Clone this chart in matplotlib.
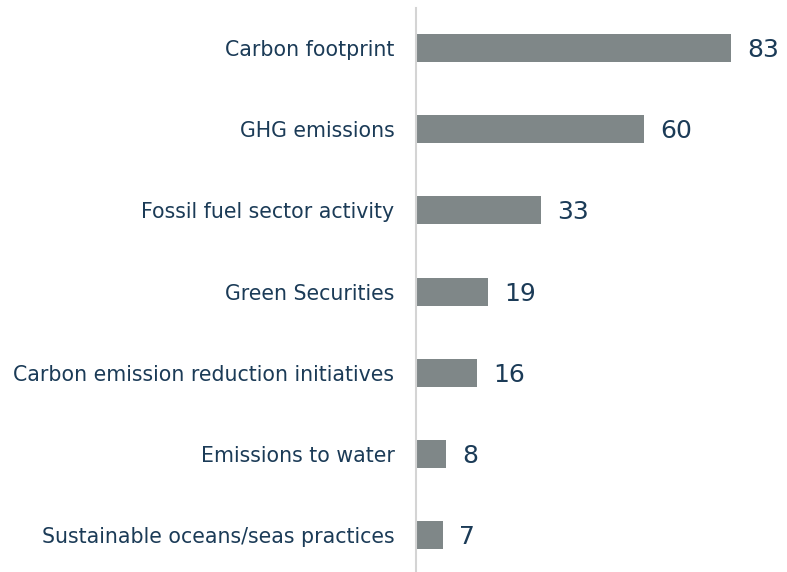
import matplotlib
matplotlib.use("Agg")
import matplotlib.pyplot as plt
from matplotlib.transforms import offset_copy

categories = [
    "Carbon footprint",
    "GHG emissions",
    "Fossil fuel sector activity",
    "Green Securities",
    "Carbon emission reduction initiatives",
    "Emissions to water",
    "Sustainable oceans/seas practices",
]
values = [83, 60, 33, 19, 16, 8, 7]

bar_color = "#7f8788"
text_color = "#1b3b57"
axis_color = "#d4d4d4"

W, H = 787, 572
fig = plt.figure(figsize=(W / 100, H / 100), dpi=100)
ax = fig.add_axes([416 / W, 0, 1 - 416 / W, (H - 8) / H])

pos = list(range(len(categories)))
ax.barh(pos, values, height=0.345, color=bar_color, left=0)
ax.set_xlim(0, 97.7)
ax.set_ylim(6.456, -0.493)

for s in ["top", "right", "bottom"]:
    ax.spines[s].set_visible(False)
ax.spines["left"].set_color(axis_color)
ax.spines["left"].set_linewidth(1.5)
ax.set_xticks([])
ax.set_yticks(pos)
ax.set_yticklabels(categories, fontsize=14.8, color=text_color, family="DejaVu Sans")
ax.tick_params(axis="y", length=0, pad=15.5)

for p, v in zip(pos, values):
    t = offset_copy(ax.transData, fig=fig, x=16, y=-9, units="dots")
    ax.text(v, p, str(v), transform=t, ha="left", va="baseline",
            fontsize=18, color=text_color, family="DejaVu Sans")

fig.savefig("out.png", dpi=100)
